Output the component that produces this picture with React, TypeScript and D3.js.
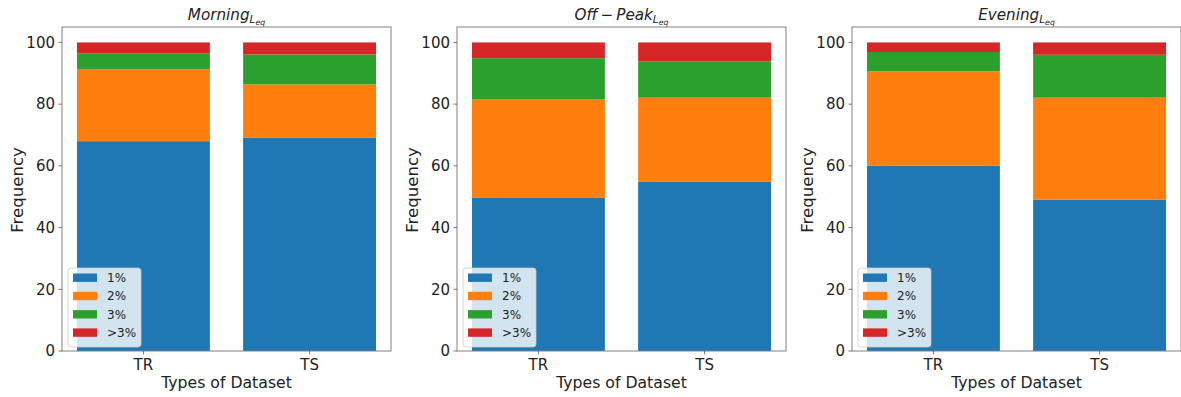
import React from "react";
import * as d3 from "d3";

// Stacked frequency shares per error band, for the training (TR) and test (TS) sets
const categories = ["TR", "TS"];
const seriesNames = ["1%", "2%", "3%", ">3%"];
const seriesColors = ["#1f77b4", "#ff7f0e", "#2ca02c", "#d62728"];

const morning1 = [68.0, 69.2];
const morning2 = [23.4, 17.2];
const morning3 = [5.1, 9.7];
const morning4 = [3.5, 3.9];

const offPeak1 = [49.6, 54.8];
const offPeak2 = [31.9, 27.3];
const offPeak3 = [13.4, 11.8];
const offPeak4 = [5.1, 6.1];

const evening1 = [60.0, 49.0];
const evening2 = [30.6, 33.1];
const evening3 = [6.3, 13.9];
const evening4 = [3.1, 4.0];

const yTicks = [0, 20, 40, 60, 80, 100];
const panelTitles = ["Morning", "Off\u2009\u2212\u2009Peak", "Evening"];
const xAxisLabel = "Types of Dataset";
const yAxisLabel = "Frequency";

const panels = [
  [morning1, morning2, morning3, morning4],
  [offPeak1, offPeak2, offPeak3, offPeak4],
  [evening1, evening2, evening3, evening4],
];

const FONT = "'DejaVu Sans', sans-serif";
const W = 1181;
const H = 397;
const panelOffsets = [0, 395, 790];
const axLeft = 62;
const axWidth = 329;
const axTop = 27;
const axBottom = 351;

function Panel({ index }: { index: number }) {
  const ox = panelOffsets[index];
  const left = ox + axLeft;
  const right = left + axWidth;
  const x = d3.scaleLinear().domain([-0.49, 1.49]).range([left, right]);
  const y = d3.scaleLinear().domain([0, 105]).range([axBottom, axTop]);
  const rows = categories.map((c, i) => {
    const o: Record<string, number | string> = { cat: c };
    seriesNames.forEach((s, k) => (o[s] = panels[index][k][i]));
    return o;
  });
  const stacked = d3.stack<any>().keys(seriesNames)(rows);
  const cx = (left + right) / 2;

  const legX = left + 6;
  const legY = 268;
  return (
    <g>
      {stacked.map((layer, k) =>
        layer.map((d, i) => (
          <rect
            key={`${k}-${i}`}
            x={x(i - 0.4)}
            width={x(i + 0.4) - x(i - 0.4)}
            y={y(d[1])}
            height={y(d[0]) - y(d[1])}
            fill={seriesColors[k]}
          />
        ))
      )}
      <rect
        x={left}
        y={axTop}
        width={axWidth}
        height={axBottom - axTop}
        fill="none"
        stroke="#808080"
        strokeWidth={1}
      />
      {yTicks.map((t) => (
        <g key={t}>
          <line x1={left - 3.5} x2={left} y1={y(t)} y2={y(t)} stroke="#555" strokeWidth={0.8} />
          <text
            x={left - 7}
            y={y(t)}
            dy="0.35em"
            textAnchor="end"
            fontFamily={FONT}
            fontSize={15}
            fill="#222"
          >
            {t}
          </text>
        </g>
      ))}
      {categories.map((c, i) => (
        <g key={c}>
          <line x1={x(i)} x2={x(i)} y1={axBottom} y2={axBottom + 3.5} stroke="#555" strokeWidth={0.8} />
          <text x={x(i)} y={axBottom + 19} textAnchor="middle" fontFamily={FONT} fontSize={15} fill="#222">
            {c}
          </text>
        </g>
      ))}
      <text x={cx} y={388} textAnchor="middle" fontFamily={FONT} fontSize={15.7} fill="#222">
        {xAxisLabel}
      </text>
      <text
        transform={`translate(${ox + 23},${(axTop + axBottom) / 2 + 1}) rotate(-90)`}
        textAnchor="middle"
        fontFamily={FONT}
        fontSize={16.6}
        fill="#222"
      >
        {yAxisLabel}
      </text>
      <text x={cx} y={20} textAnchor="middle" fontFamily={FONT} fontStyle="italic" fontSize={15.2} fill="#222">
        <tspan>{panelTitles[index]}</tspan>
        <tspan fontSize={10.5} dy={3}>L</tspan>
        <tspan fontSize={7.8} dy={2}>eq</tspan>
      </text>
      <rect
        x={legX}
        y={legY}
        width={73}
        height={79}
        rx={3}
        fill="#ffffff"
        fillOpacity={0.8}
        stroke="#cccccc"
        strokeWidth={0.8}
      />
      {seriesNames.map((s, k) => (
        <g key={s}>
          <rect x={legX + 5} y={legY + 5.5 + k * 18.3} width={24} height={8.4} fill={seriesColors[k]} />
          <text
            x={legX + 39}
            y={legY + 9.7 + k * 18.3}
            dy="0.35em"
            fontFamily={FONT}
            fontSize={12}
            fill="#222"
          >
            {s}
          </text>
        </g>
      ))}
    </g>
  );
}

export default function App() {
  return (
    <svg
      width={W}
      height={H}
      style={{ position: "absolute", left: 0, top: 0, background: "#fff" }}
    >
      <rect x={0} y={0} width={W} height={H} fill="#fff" />
      {panels.map((_, i) => (
        <Panel key={i} index={i} />
      ))}
    </svg>
  );
}
